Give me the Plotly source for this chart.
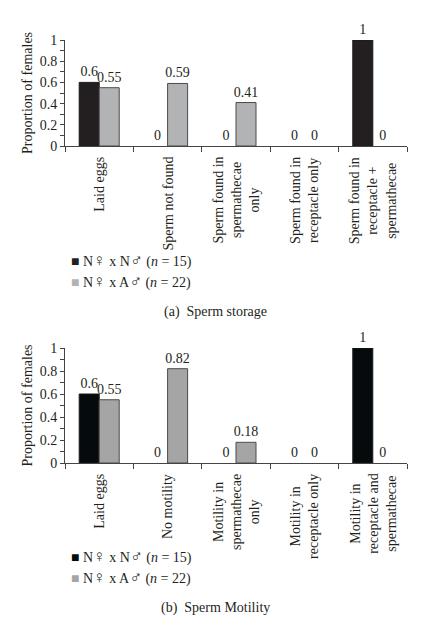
import plotly.graph_objects as go

# ---- data ----
cats_a = ["Laid eggs", "Sperm not found", "Sperm found in<br>spermathecae<br>only",
          "Sperm found in<br>receptacle only", "Sperm found in<br>receptacle +<br>spermathecae"]
nn_a = [0.6, 0, 0, 0, 1]
na_a = [0.55, 0.59, 0.41, 0, 0]

cats_b = ["Laid eggs", "No motility", "Motility in<br>spermathecae<br>only",
          "Motility in<br>receptacle only", "Motility in<br>receptacle and<br>spermathecae"]
nn_b = [0.6, 0, 0, 0, 1]
na_b = [0.55, 0.82, 0.18, 0, 0]

SYM = '<span style="font-size:17px">{}</span>'
name_nn = "N" + SYM.format("\u2640") + " x N" + SYM.format("\u2642") + " (<i>n</i> = 15)"
name_na = "N" + SYM.format("\u2640") + " x A" + SYM.format("\u2642") + " (<i>n</i> = 22)"
caption_a = "(a)  Sperm storage"
caption_b = "(b)  Sperm Motility"
ytitle = "Proportion of females"

FONT = "Liberation Serif"
TXT = "#231f20"
FS = 14
W, H = 436, 627

fig = go.Figure()

def add_pair(cats, nn, na, xa, ya, leg, c_black, c_gray):
    for vals, col, lcol, nm in [(nn, c_black, "#1a1a1a", name_nn), (na, c_gray, "#4a4a4a", name_na)]:
        fig.add_trace(go.Bar(x=cats, y=vals, name=nm, xaxis=xa, yaxis=ya, showlegend=False,
                             marker=dict(color=col,
                                         line=dict(color=lcol, width=[1 if v > 0 else 0 for v in vals])),
                             text=[f"{v:g}" for v in vals], textposition="outside",
                             cliponaxis=False, constraintext="none",
                             textfont=dict(family=FONT, size=FS, color=TXT)))
        # legend entry (colored square glyph set tight to the label)
        fig.add_trace(go.Scatter(x=[None], y=[None], mode="markers", xaxis=xa, yaxis=ya,
                                 legend=leg,
                                 marker=dict(color="rgba(0,0,0,0)", size=1, line=dict(width=0)),
                                 name=f'<span style="color:{col};font-size:14px">\u25A0</span> ' + nm))

add_pair(cats_a, nn_a, na_a, "x", "y", "legend", "#231f20", "#b2b3b5")
add_pair(cats_b, nn_b, na_b, "x2", "y2", "legend2", "#050a0c", "#a5a5a5")

def py(px):
    return 1 - px / H

xdom = [65 / W, 407 / W]
xax = dict(domain=xdom, showticklabels=False, ticks="outside", tickson="boundaries",
           ticklen=5, tickcolor="#444", showline=True, linecolor="#444", linewidth=1,
           showgrid=False, zeroline=False, fixedrange=True, automargin=False)
yax = dict(range=[0, 1], dtick=0.2, tick0=0, ticks="outside", ticklen=4, tickcolor="#444",
           showline=True, linecolor="#444", linewidth=1, showgrid=False, zeroline=False,
           automargin=False, fixedrange=True, tickfont=dict(family=FONT, size=FS, color=TXT),
           minor=dict(dtick=0.1, ticks="outside", ticklen=4, tickcolor="#444", showgrid=False),
           title=dict(text=ytitle, font=dict(family=FONT, size=FS, color=TXT), standoff=3))

fig.update_layout(
    width=W, height=H, margin=dict(l=0, r=0, t=0, b=0, autoexpand=False),
    paper_bgcolor="white", plot_bgcolor="white",
    barmode="group", bargap=0.415, bargroupgap=0,
    font=dict(family=FONT, size=FS, color=TXT),
    xaxis=dict(xax, anchor="y"),
    yaxis=dict(yax, domain=[py(146), py(40)], anchor="x"),
    xaxis2=dict(xax, anchor="y2"),
    yaxis2=dict(yax, domain=[py(463), py(348)], anchor="x2"),
    legend=dict(x=31 / W, y=py(245), xanchor="left", yanchor="top", bgcolor="rgba(0,0,0,0)",
                font=dict(family=FONT, size=FS, color=TXT), tracegroupgap=0, itemwidth=30),
    legend2=dict(x=31 / W, y=py(541), xanchor="left", yanchor="top", bgcolor="rgba(0,0,0,0)",
                 font=dict(family=FONT, size=FS, color=TXT), tracegroupgap=0, itemwidth=30),
    showlegend=True,
)

for cats, xr, ytop in [(cats_a, "x", py(155)), (cats_b, "x2", py(472))]:
    for c in cats:
        fig.add_annotation(x=c, xref=xr, y=ytop, yref="paper", text=c, textangle=-90,
                           showarrow=False, xanchor="center", yanchor="top", align="center",
                           font=dict(family=FONT, size=FS, color=TXT))

fig.add_annotation(x=215 / W, y=py(312), xref="paper", yref="paper", text=caption_a,
                   showarrow=False, xanchor="center", yanchor="middle",
                   font=dict(family=FONT, size=FS, color=TXT))
fig.add_annotation(x=215 / W, y=py(608), xref="paper", yref="paper", text=caption_b,
                   showarrow=False, xanchor="center", yanchor="middle",
                   font=dict(family=FONT, size=FS, color=TXT))

fig.write_html("out.html", config={"displayModeBar": False},
               post_script="document.body.style.margin='0';document.body.style.overflow='hidden';")
